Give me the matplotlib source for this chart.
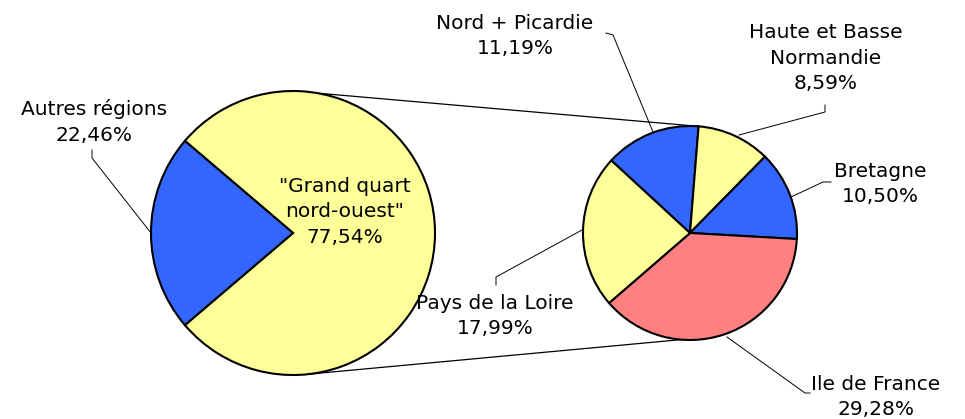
import numpy as np
import matplotlib.pyplot as plt

# data
main_labels = ['"Grand quart\nnord-ouest"', "Autres régions"]
main_values = [77.54, 22.46]
main_colors = ["#FFFF99", "#3366FF"]

sub_labels = ["Nord + Picardie", "Haute et Basse\nNormandie", "Bretagne",
              "Ile de France", "Pays de la Loire"]
sub_values = [11.19, 8.59, 10.50, 29.28, 17.99]
sub_colors = ["#3366FF", "#FFFF99", "#3366FF", "#FF8080", "#FFFF99"]

W, H = 965, 419
fig = plt.figure(figsize=(W / 100, H / 100), dpi=100)
ax = fig.add_axes([0, 0, 1, 1])


def py(y):
    # pixel row -> data y
    return H - y


c1, r1 = (293, py(233)), 142
c2, r2 = (690, py(233)), 107
wp = dict(edgecolor="black", linewidth=1.5)

# main pie: "Autres régions" centred on the left
tot1 = sum(main_values)
start1 = 180 - 360 * main_values[1] / tot1 / 2 - 360 * main_values[0] / tot1
ax.pie(main_values, colors=main_colors, startangle=start1, center=c1,
       radius=r1, wedgeprops=wp, frame=True)

# secondary pie, clockwise
start2 = 85.4 + 360 * sub_values[0] / sum(sub_values)
ax.pie(sub_values, colors=sub_colors, startangle=start2, counterclock=False,
       center=c2, radius=r2, wedgeprops=wp, frame=True)
ax.set_xlim(0, W)
ax.set_ylim(0, H)
ax.set_aspect("equal")
ax.axis("off")


def pt(c, r, ang):
    a = np.deg2rad(ang)
    return c[0] + r * np.cos(a), c[1] + r * np.sin(a)


# connector lines between the pies
for a1, a2 in [(80, 85.4), (-84, -94.8)]:
    p1, p2 = pt(c1, r1, a1), pt(c2, r2, a2)
    ax.plot([p1[0], p2[0]], [p1[1], p2[1]], color="black", lw=0.9, zorder=0)

fs = 14.5
txt = dict(fontsize=fs, ha="center", va="center", linespacing=1.45,
           family="DejaVu Sans")


def pct(v):
    return f"{v:.2f}".replace(".", ",") + "%"


ax.text(345, py(212), main_labels[0] + "\n" + pct(main_values[0]), **txt)
ax.text(94, py(122), main_labels[1] + "\n" + pct(main_values[1]), **txt)

label_pos = [(515, 36), (826, 58), (880, 184), (876, 397), (495, 316)]
for lab, v, (x, y) in zip(sub_labels, sub_values, label_pos):
    ax.text(x, py(y), lab + "\n" + pct(v), **txt)

# leader lines
leaders = [
    [(92, 150), (92, 158), (151, 233)],
    [(606, 33), (613, 35), (653, 132)],
    [(825, 105), (825, 112), (739, 135)],
    [(831, 182), (823, 182), (791, 197)],
    [(496, 285), (496, 277), (582, 230)],
    [(810, 393), (805, 393), (727, 337)],
]
for seg in leaders:
    ax.plot([p[0] for p in seg], [py(p[1]) for p in seg], color="black",
            lw=0.7, zorder=0)

fig.savefig("out.png", dpi=100)
